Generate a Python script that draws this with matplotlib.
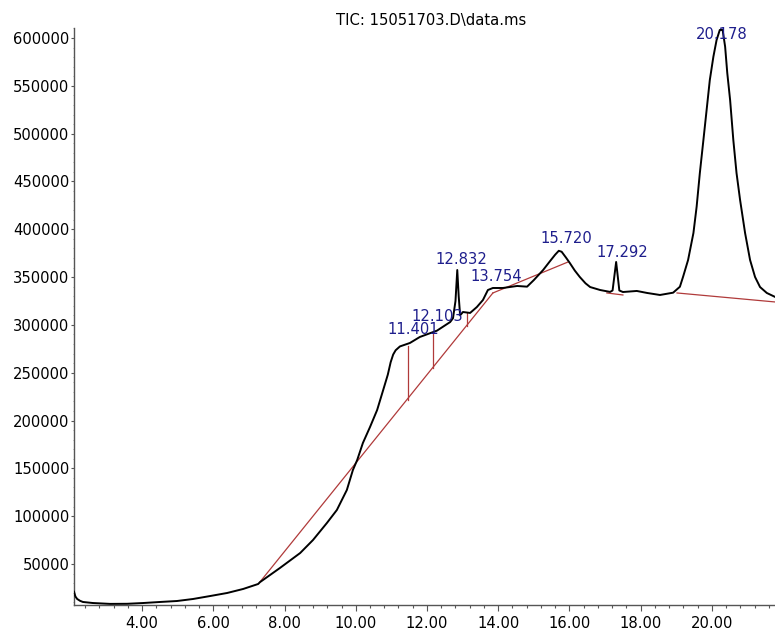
import matplotlib
matplotlib.use("Agg")
import matplotlib.pyplot as plt
from matplotlib.ticker import MultipleLocator, FixedLocator

# ---- data ----
time_min = [2.09, 2.13, 2.18, 2.26, 2.34, 2.62, 3.10, 3.58, 4.03, 4.51, 4.98, 5.43,
            5.91, 6.39, 6.84, 7.26, 7.31, 7.87, 8.44, 8.80, 9.19, 9.47, 9.75, 9.92,
            10.04, 10.20, 10.40, 10.60, 10.77, 10.90, 10.98, 11.05, 11.12, 11.24, 11.52, 11.80,
            12.28, 12.65, 12.73, 12.80, 12.85, 12.89, 12.93, 13.01, 13.21, 13.40,
            13.57, 13.71, 13.85, 14.13, 14.53, 14.81, 15.00, 15.26, 15.45, 15.60,
            15.70, 15.78, 15.90, 16.01, 16.15, 16.29, 16.45, 16.58, 16.86, 17.14, 17.21, 17.31, 17.40,
            17.50, 17.89, 18.18, 18.54, 18.91, 19.10, 19.19, 19.33, 19.48, 19.57, 19.66,
            19.76, 19.85, 19.94, 20.04, 20.13, 20.22, 20.30, 20.37, 20.43, 20.51,
            20.60, 20.69, 20.79, 20.93, 21.07, 21.21, 21.35, 21.54, 21.77]
abundance = [21000, 16000, 13400, 11500, 10300, 9200, 8300, 8400, 9200, 10300, 11300, 13400,
             16500, 19700, 23900, 29100, 31000, 45800, 61500, 75100, 92900, 106500, 127400, 148300,
             158700, 176500, 193200, 211000, 231900, 248000, 261000, 269000, 273500, 277500, 281100, 287400,
             294000, 303000, 307000, 325000, 357400, 330000, 310000, 313500, 312500, 318700,
             326000, 336500, 338600, 338600, 340700, 340000, 346900, 357400, 366500, 373500,
             377500, 376500, 370500, 364700, 356800, 350100, 343500, 339600, 336500, 334500, 336000, 365800, 336000,
             334400, 335500, 333400, 331300, 333700, 339900, 350400, 367900, 396100, 423600, 458800,
             493300, 524700, 556100, 580400, 597900, 608400, 608400, 590900, 563400, 535100,
             493300, 458800, 430600, 396100, 367900, 350100, 339600, 333400, 329300]

# integration baselines (start/end)
base_t = [[7.31, 13.85], [13.85, 15.96], [17.05, 17.50], [19.02, 21.77]]
base_v = [[31200, 333400], [333400, 365800], [333400, 331300], [333400, 324000]]

# drop lines
drop_t = [11.47, 12.17, 13.12]
drop_top = [278000, 291500, 312400]
drop_bottom = [221500, 254900, 298900]

# peak labels
peak_rt = [11.401, 12.103, 12.832, 13.754, 15.720, 17.292, 20.178]
peak_height = [278000, 291500, 357400, 338600, 376200, 365800, 610600]

title = "TIC: 15051703.D\\data.ms"

# ---- layout / style ----
label_offsets_px = [(8, 16), (7, 17), (5, 11), (7, 11), (7, 14), (7, 9), (3, -7)]
FONT = "DejaVu Sans"
FS = 10.6

fig = plt.figure(figsize=(7.75, 6.32), dpi=100)
ax = fig.add_axes([74 / 775, 1 - 605 / 632, (775 - 74) / 775, (605 - 28) / 632])

ax.plot(time_min, abundance, color="black", lw=1.4, solid_joinstyle="round", zorder=3)

for bt, bv in zip(base_t, base_v):
    ax.plot(bt, bv, color="#b03a3a", lw=0.9, zorder=2)
for t, top, bot in zip(drop_t, drop_top, drop_bottom):
    ax.plot([t, t], [bot, top], color="#b03a3a", lw=0.9, zorder=2)

for rt, h, (dx, dy) in zip(peak_rt, peak_height, label_offsets_px):
    ax.annotate(f"{rt:.3f}", xy=(rt, h), xytext=(dx, dy), textcoords="offset pixels",
                ha="center", va="center", color="#1e1e8c", fontsize=FS,
                family=FONT, annotation_clip=False, zorder=4)

ax.set_xlim(2.09, 21.77)
ax.set_ylim(7130, 610456)

ax.xaxis.set_major_locator(FixedLocator([4, 6, 8, 10, 12, 14, 16, 18, 20]))
ax.xaxis.set_minor_locator(MultipleLocator(0.4))
ax.yaxis.set_minor_locator(MultipleLocator(10000))
ax.set_xticklabels([f"{v:.2f}" for v in [4, 6, 8, 10, 12, 14, 16, 18, 20]])
ax.set_yticks(list(range(50000, 600001, 50000)))
ax.set_yticklabels([str(v) for v in range(50000, 600001, 50000)])

for s in ["top", "right"]:
    ax.spines[s].set_visible(False)
for s in ["left", "bottom"]:
    ax.spines[s].set_color("#555555")
    ax.spines[s].set_linewidth(1.0)

ax.tick_params(axis="x", which="major", direction="out", length=4.3, width=0.8,
               pad=3.4, labelsize=FS, colors="#555555", labelcolor="black")
ax.tick_params(axis="x", which="minor", direction="out", length=2.5, width=0.8,
               colors="#555555")
ax.tick_params(axis="y", which="major", direction="out", length=2.5, width=0.8,
               pad=0.8, labelsize=FS, colors="#555555", labelcolor="black")
ax.tick_params(axis="y", which="minor", direction="out", length=1.0, width=0.6,
               colors="#9a9a9a")
for lab in ax.get_xticklabels() + ax.get_yticklabels():
    lab.set_family(FONT)

fig.text(431 / 775, 1 - 20 / 632, title, ha="center", va="center",
         fontsize=FS, family=FONT, color="black")

fig.savefig("out.png", dpi=100)
